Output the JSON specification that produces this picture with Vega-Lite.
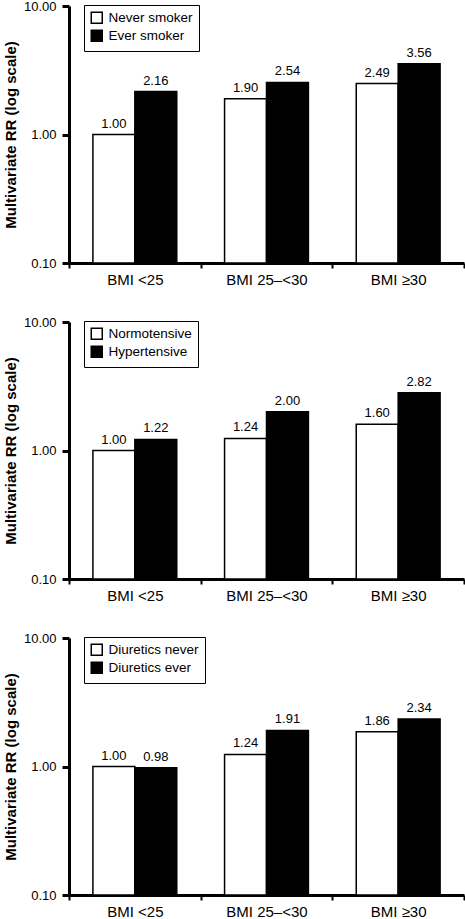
{
  "$schema": "https://vega.github.io/schema/vega-lite/v6.json",
  "padding": {"left": 3, "top": 0, "right": 1, "bottom": 0},
  "bounds": "flush",
  "spacing": 59,
  "config": {
    "font": "Liberation Sans",
    "view": {"stroke": null},
    "axis": {"domainColor": "black", "tickColor": "black", "labelColor": "black", "titleColor": "black", "grid": false}
  },
  "datasets": {
    "rr": [
      {"panel": 1, "bmi": "BMI <25", "order": 0, "group": "Never smoker", "rr": 1.00},
      {"panel": 1, "bmi": "BMI <25", "order": 1, "group": "Ever smoker", "rr": 2.16},
      {"panel": 1, "bmi": "BMI 25–<30", "order": 0, "group": "Never smoker", "rr": 1.90},
      {"panel": 1, "bmi": "BMI 25–<30", "order": 1, "group": "Ever smoker", "rr": 2.54},
      {"panel": 1, "bmi": "BMI ≥30", "order": 0, "group": "Never smoker", "rr": 2.49},
      {"panel": 1, "bmi": "BMI ≥30", "order": 1, "group": "Ever smoker", "rr": 3.56},
      {"panel": 2, "bmi": "BMI <25", "order": 0, "group": "Normotensive", "rr": 1.00},
      {"panel": 2, "bmi": "BMI <25", "order": 1, "group": "Hypertensive", "rr": 1.22},
      {"panel": 2, "bmi": "BMI 25–<30", "order": 0, "group": "Normotensive", "rr": 1.24},
      {"panel": 2, "bmi": "BMI 25–<30", "order": 1, "group": "Hypertensive", "rr": 2.00},
      {"panel": 2, "bmi": "BMI ≥30", "order": 0, "group": "Normotensive", "rr": 1.60},
      {"panel": 2, "bmi": "BMI ≥30", "order": 1, "group": "Hypertensive", "rr": 2.82},
      {"panel": 3, "bmi": "BMI <25", "order": 0, "group": "Diuretics never", "rr": 1.00},
      {"panel": 3, "bmi": "BMI <25", "order": 1, "group": "Diuretics ever", "rr": 0.98},
      {"panel": 3, "bmi": "BMI 25–<30", "order": 0, "group": "Diuretics never", "rr": 1.24},
      {"panel": 3, "bmi": "BMI 25–<30", "order": 1, "group": "Diuretics ever", "rr": 1.91},
      {"panel": 3, "bmi": "BMI ≥30", "order": 0, "group": "Diuretics never", "rr": 1.86},
      {"panel": 3, "bmi": "BMI ≥30", "order": 1, "group": "Diuretics ever", "rr": 2.34}
    ]
  },
  "resolve": {"scale": {"fill": "independent"}, "legend": {"fill": "independent"}},
  "vconcat": [
    {
      "width": 395, "height": 257,
      "data": {"name": "rr"},
      "transform": [{"filter": "datum.panel == 1"}],
      "encoding": {
        "x": {"field": "bmi", "type": "nominal", "sort": ["BMI <25", "BMI 25–<30", "BMI ≥30"], "scale": {"paddingInner": 0, "paddingOuter": 0},
          "axis": {"title": null, "labelAngle": 0, "labelFontSize": 15, "labelPadding": 4, "domainWidth": 3, "tickBand": "extent", "tickSize": 5, "tickWidth": 2}},
        "xOffset": {"field": "order", "type": "ordinal", "scale": {"paddingInner": 0, "paddingOuter": 0.57}},
        "y": {"field": "rr", "type": "quantitative", "scale": {"type": "log", "domain": [0.1, 10]},
          "axis": {"title": "Multivariate RR (log scale)", "titleFontSize": 15, "titleFontWeight": "bold", "titlePadding": 5, "values": [0.1, 1, 10], "format": ".2f", "labelFontSize": 13, "labelPadding": 6, "tickSize": 7, "tickWidth": 3, "domainWidth": 3}}
      },
      "layer": [
        {"mark": {"type": "bar", "stroke": "black", "strokeWidth": 1.5},
          "encoding": {"y2": {"datum": 0.1},
            "fill": {"field": "group", "type": "nominal", "scale": {"domain": ["Never smoker", "Ever smoker"], "range": ["white", "black"]},
            "legend": {"title": null, "orient": "none", "legendX": 15, "legendY": -1, "direction": "vertical", "strokeColor": "black", "fillColor": "white", "padding": 6, "symbolType": "square", "symbolSize": 121, "symbolStrokeColor": "black", "symbolStrokeWidth": 1.5, "labelFontSize": 13.5, "labelColor": "black", "rowPadding": 0, "labelOffset": 5}}}},
        {"mark": {"type": "text", "dy": -7, "baseline": "alphabetic", "fontSize": 13, "color": "black"},
          "encoding": {"text": {"field": "rr", "type": "quantitative", "format": ".2f"}}}
      ]
    },
    {
      "width": 395, "height": 257,
      "data": {"name": "rr"},
      "transform": [{"filter": "datum.panel == 2"}],
      "encoding": {
        "x": {"field": "bmi", "type": "nominal", "sort": ["BMI <25", "BMI 25–<30", "BMI ≥30"], "scale": {"paddingInner": 0, "paddingOuter": 0},
          "axis": {"title": null, "labelAngle": 0, "labelFontSize": 15, "labelPadding": 4, "domainWidth": 3, "tickBand": "extent", "tickSize": 5, "tickWidth": 2}},
        "xOffset": {"field": "order", "type": "ordinal", "scale": {"paddingInner": 0, "paddingOuter": 0.57}},
        "y": {"field": "rr", "type": "quantitative", "scale": {"type": "log", "domain": [0.1, 10]},
          "axis": {"title": "Multivariate RR (log scale)", "titleFontSize": 15, "titleFontWeight": "bold", "titlePadding": 5, "values": [0.1, 1, 10], "format": ".2f", "labelFontSize": 13, "labelPadding": 6, "tickSize": 7, "tickWidth": 3, "domainWidth": 3}}
      },
      "layer": [
        {"mark": {"type": "bar", "stroke": "black", "strokeWidth": 1.5},
          "encoding": {"y2": {"datum": 0.1},
            "fill": {"field": "group", "type": "nominal", "scale": {"domain": ["Normotensive", "Hypertensive"], "range": ["white", "black"]},
            "legend": {"title": null, "orient": "none", "legendX": 15, "legendY": -1, "direction": "vertical", "strokeColor": "black", "fillColor": "white", "padding": 6, "symbolType": "square", "symbolSize": 121, "symbolStrokeColor": "black", "symbolStrokeWidth": 1.5, "labelFontSize": 13.5, "labelColor": "black", "rowPadding": 0, "labelOffset": 5}}}},
        {"mark": {"type": "text", "dy": -7, "baseline": "alphabetic", "fontSize": 13, "color": "black"},
          "encoding": {"text": {"field": "rr", "type": "quantitative", "format": ".2f"}}}
      ]
    },
    {
      "width": 395, "height": 257,
      "data": {"name": "rr"},
      "transform": [{"filter": "datum.panel == 3"}],
      "encoding": {
        "x": {"field": "bmi", "type": "nominal", "sort": ["BMI <25", "BMI 25–<30", "BMI ≥30"], "scale": {"paddingInner": 0, "paddingOuter": 0},
          "axis": {"title": null, "labelAngle": 0, "labelFontSize": 15, "labelPadding": 4, "domainWidth": 3, "tickBand": "extent", "tickSize": 5, "tickWidth": 2}},
        "xOffset": {"field": "order", "type": "ordinal", "scale": {"paddingInner": 0, "paddingOuter": 0.57}},
        "y": {"field": "rr", "type": "quantitative", "scale": {"type": "log", "domain": [0.1, 10]},
          "axis": {"title": "Multivariate RR (log scale)", "titleFontSize": 15, "titleFontWeight": "bold", "titlePadding": 5, "values": [0.1, 1, 10], "format": ".2f", "labelFontSize": 13, "labelPadding": 6, "tickSize": 7, "tickWidth": 3, "domainWidth": 3}}
      },
      "layer": [
        {"mark": {"type": "bar", "stroke": "black", "strokeWidth": 1.5},
          "encoding": {"y2": {"datum": 0.1},
            "fill": {"field": "group", "type": "nominal", "scale": {"domain": ["Diuretics never", "Diuretics ever"], "range": ["white", "black"]},
            "legend": {"title": null, "orient": "none", "legendX": 15, "legendY": -1, "direction": "vertical", "strokeColor": "black", "fillColor": "white", "padding": 6, "symbolType": "square", "symbolSize": 121, "symbolStrokeColor": "black", "symbolStrokeWidth": 1.5, "labelFontSize": 13.5, "labelColor": "black", "rowPadding": 0, "labelOffset": 5}}}},
        {"mark": {"type": "text", "dy": -7, "baseline": "alphabetic", "fontSize": 13, "color": "black"},
          "encoding": {"text": {"field": "rr", "type": "quantitative", "format": ".2f"}}}
      ]
    }
  ]
}
